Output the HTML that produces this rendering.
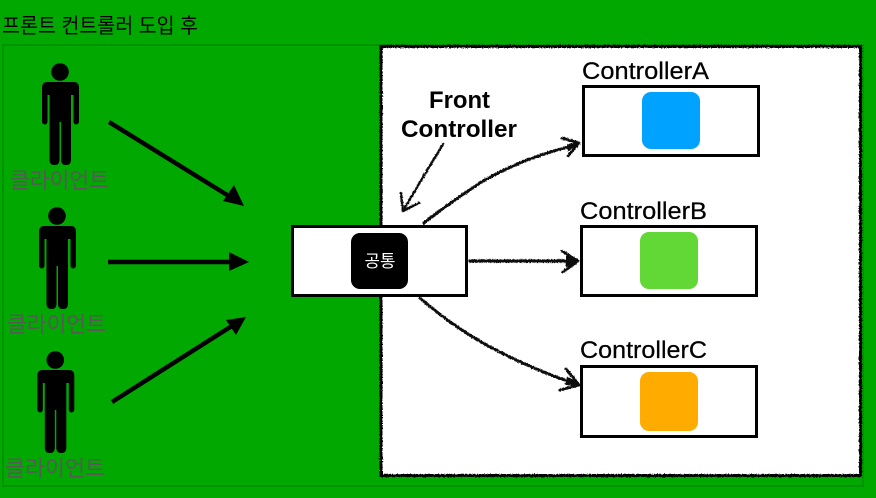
<!DOCTYPE html>
<html lang="ko">
<head>
<meta charset="utf-8">
<style>
html,body{margin:0;padding:0;background:#00a800;width:876px;height:498px;overflow:hidden}
svg{display:block}
text{font-family:"Liberation Sans","Noto Sans CJK KR",sans-serif}
</style>
</head>
<body>
<svg width="876" height="498" viewBox="0 0 876 498" xmlns="http://www.w3.org/2000/svg">
<defs>
<filter id="rough" x="-5%" y="-5%" width="110%" height="110%">
<feTurbulence type="fractalNoise" baseFrequency="0.7" numOctaves="2" seed="4"/>
<feDisplacementMap in="SourceGraphic" scale="2.6" xChannelSelector="R" yChannelSelector="G"/>
</filter>
<filter id="soft" x="-5%" y="-5%" width="110%" height="110%">
<feGaussianBlur stdDeviation="0.3"/>
</filter>
<g id="person">
<circle cx="60" cy="72" r="8.800"/>
<path d="M47 82H74Q79 82 79 88V121Q79 124.500 76 124.500Q73.500 124.500 73.500 121V95H71V160Q71 165 66 165Q61 165 61 160V122H59.500V160Q59.500 165 54.500 165Q49.500 165 49.500 160V95H47.500V121Q47.500 124.500 45 124.500Q42 124.500 42 121V88Q42 82 47 82Z"/>
</g>
</defs>

<rect width="876" height="498" fill="#00a800"/>
<rect x="3" y="45" width="860" height="441" fill="none" stroke="#009500" stroke-width="2"/>

<text x="2" y="33" font-size="21" fill="#000" textLength="196" lengthAdjust="spacingAndGlyphs">프론트 컨트롤러 도입 후</text>

<use href="#person"/>
<use href="#person" transform="translate(-3 144)"/>
<use href="#person" transform="translate(-4.700 288)"/>

<g font-size="22" fill="#595959">
<text x="10" y="188" textLength="99" lengthAdjust="spacingAndGlyphs">클라이언트</text>
<text x="7" y="332" textLength="99" lengthAdjust="spacingAndGlyphs">클라이언트</text>
<text x="5" y="476" textLength="100" lengthAdjust="spacingAndGlyphs">클라이언트</text>
</g>

<g stroke="#000" stroke-width="4.500" fill="none">
<line x1="109" y1="122" x2="232" y2="198"/>
<line x1="108" y1="262" x2="236" y2="262"/>
<line x1="112" y1="402" x2="235" y2="324"/>
</g>
<polygon points="244,206 223,201 234,185" fill="#000"/>
<polygon points="249,262 229,252 229,271" fill="#000"/>
<polygon points="246,317 226,320 236,335" fill="#000"/>

<rect x="381" y="46.500" width="479.500" height="429" fill="#fff" stroke="#000" stroke-width="3" filter="url(#rough)"/>

<g fill="none" stroke="#111" stroke-linecap="round" stroke-linejoin="round" filter="url(#rough)">
<path d="M424 223C445 206 465 193 480 183C500 171 530 156 576 145" stroke-width="3"/>
<path d="M562 138L579 143L568 156" stroke-width="2.800"/>
<path d="M579 143L568 145L568 150Z" fill="#111" stroke-width="2"/>
<path d="M470 261H576" stroke-width="3.200"/>
<path d="M562 251L578 261L563 272" stroke-width="2.800"/>
<path d="M578 261L567 256L567 266Z" fill="#111" stroke-width="2"/>
<path d="M420 298C445 320 475 340 500 352C525 365 555 377 576 384" stroke-width="3"/>
<path d="M566 369L579 385L560 390" stroke-width="2.800"/>
<path d="M579 385L568 378L566 384Z" fill="#111" stroke-width="2"/>
<path d="M443 144L404 209" stroke-width="2.500"/>
<path d="M401 193L403 211L419 203" stroke-width="2.500"/>
</g>

<g font-size="24" font-weight="bold" fill="#000">
<text x="429" y="108" textLength="61" lengthAdjust="spacingAndGlyphs">Front</text>
<text x="401" y="137" textLength="116" lengthAdjust="spacingAndGlyphs">Controller</text>
</g>

<g font-size="24.500" fill="#000" stroke="#000" stroke-width="0.250">
<text x="582" y="79" textLength="127" lengthAdjust="spacingAndGlyphs">ControllerA</text>
<text x="580" y="219" textLength="127" lengthAdjust="spacingAndGlyphs">ControllerB</text>
<text x="580" y="358" textLength="127" lengthAdjust="spacingAndGlyphs">ControllerC</text>
</g>

<g fill="#fff" stroke="#000" stroke-width="3">
<rect x="292.500" y="226.500" width="174" height="69"/>
<rect x="583.500" y="86.500" width="175" height="69"/>
<rect x="581.500" y="226.500" width="175" height="69"/>
<rect x="581.500" y="366.500" width="175" height="70"/>
</g>

<rect x="351" y="233" width="57" height="56" rx="9" fill="#000"/>
<rect x="642" y="92" width="58" height="57" rx="9" fill="#00a2ff"/>
<rect x="640" y="232" width="58" height="57" rx="9" fill="#61d836"/>
<rect x="640" y="372" width="58" height="59" rx="9" fill="#ffab00"/>

<text x="380" y="267" font-size="17" fill="#fff" text-anchor="middle" textLength="31" lengthAdjust="spacingAndGlyphs">공통</text>
</svg>
</body>
</html>
